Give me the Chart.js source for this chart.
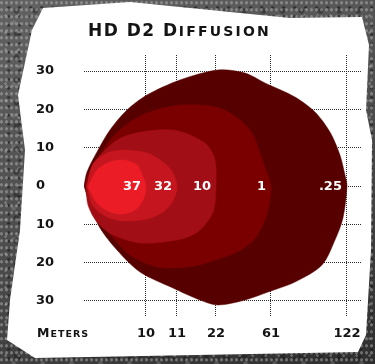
<!DOCTYPE html>
<html>
<head>
<meta charset="utf-8">
<script src="https://cdn.jsdelivr.net/npm/chart.js@4.4.1/dist/chart.umd.min.js"></script>
<style>
html, body { margin: 0; padding: 0; }
body {
    width: 375px; height: 364px; overflow: hidden; position: relative;
    background:
        radial-gradient(ellipse at 30% 40%, rgba(190,190,190,.45) 0 1px, transparent 1.8px) 0 0/5px 7px,
        radial-gradient(ellipse at 70% 60%, rgba(20,20,20,.55) 0 1.2px, transparent 2.2px) 1px 2px/11px 9px,
        radial-gradient(circle at 20% 80%, rgba(220,220,220,.3) 0 1px, transparent 1.6px) 3px 2px/13px 17px,
        radial-gradient(circle at 60% 30%, rgba(25,25,25,.45) 0 2px, transparent 3.5px) 5px 4px/19px 23px,
        radial-gradient(circle at 40% 50%, rgba(150,150,150,.35) 0 1.5px, transparent 3px) 2px 7px/29px 31px,
        linear-gradient(160deg, #626262, #4a4a4a 55%, #2e2e2e);
}
#paper {
    position: absolute; left: 0; top: 0; width: 375px; height: 364px; background: #fff;
    clip-path: polygon(43px 8px, 130px 2px, 290px 18px, 362px 17px, 369px 45px, 366px 110px, 372px 140px,
        371px 250px, 366px 335px, 358px 352px, 35px 358px, 7px 340px, 10px 300px, 20px 230px,
        25px 150px, 18px 95px, 32px 30px);
}
#chart1 { position: absolute; left: 0; top: 0; }
</style>
</head>
<body>
<div id="paper"></div>
<canvas id="chart1" width="375" height="364"></canvas>
<script>
// lux value of each contour, and the distance (meters) where it ends
const luxLabels = ['37', '32', '10', '1', '.25'];
const meterLabels = ['10', '11', '22', '61', '122'];
const yTickValues = [-30, -20, -10, 0, 10, 20, 30];

// contour outlines, [x, y]
const contour37 = [[1.04,-0.26],[3.39,4.18],[6.79,6.27],[10.18,6.79],[13.84,5.48],[15.41,2.35],[16.19,-0.26],
    [15.41,-3.66],[13.32,-6.27],[10.18,-7.31],[6.79,-6.79],[3.39,-4.44],[1.04,-0.26]];
const contour32 = [[0.78,0],[2.35,5.74],[6.01,8.62],[10.18,9.4],[16.45,8.62],[20.63,6.27],[23.24,3.39],[24.28,-0.26],
    [23.24,-3.92],[20.63,-6.79],[16.45,-8.62],[10.18,-9.14],[6.01,-8.09],[2.35,-5.22],[0.78,0]];
const contour10 = [[0.52,0],[2.35,5.48],[6.01,9.92],[10.18,12.79],[16.45,14.36],[23.24,14.62],[27.68,13.32],[32.12,10.71],
    [34.2,6.79],[34.47,0],[33.68,-6.79],[30.29,-11.49],[26.37,-13.58],[20.63,-14.62],[14.62,-14.88],[7.57,-12.79],
    [3.39,-9.4],[1.04,-4.96],[0.52,0]];
const contour1 = [[0.26,0],[0.78,2.61],[3.39,6.79],[6.79,12.01],[11.23,16.19],[16.45,19.06],[23.24,20.89],[30.29,21.15],
    [36.03,20.1],[40.73,17.23],[43.86,13.84],[45.69,9.4],[47.26,4.7],[48.83,0],[48.04,-6.27],[46.48,-10.71],
    [43.86,-14.62],[39.43,-17.49],[34.2,-19.32],[28.98,-20.89],[22.45,-21.41],[18.02,-20.89],[12.01,-18.02],
    [7.57,-13.58],[4.18,-9.4],[1.57,-4.96],[0.26,0]];
const contour025 = [[0,0],[0.78,3.66],[3.39,8.88],[6.79,14.62],[11.23,19.84],[16.45,23.76],[25.07,27.68],[34.99,30.29],
    [42.04,29.5],[47.26,26.89],[55.09,23.24],[60.31,19.32],[64.23,14.1],[66.84,8.09],[68.15,2.87],[68.67,0],
    [67.62,-8.36],[65.54,-14.1],[62.14,-20.63],[55.09,-25.07],[48.04,-27.68],[42.04,-29.77],[34.99,-31.07],
    [30.29,-29.77],[23.24,-26.63],[14.62,-22.45],[8.62,-16.71],[4.18,-10.97],[1.57,-4.96],[0,0]];

const contours = [contour37, contour32, contour10, contour1, contour025];
const colors = ['#ec1c27', '#c5161f', '#a20e15', '#7a0000', '#560000'];

const FONT = '"DejaVu Sans", sans-serif';
const INK = '#141414';

// meter ticks sit where each contour ends
const tickPos = contours.map(c => Math.max(...c.map(p => p[0])));

function smallCaps(ctx, parts, x, y) {
    // parts: [text, size, letter spacing] drawn one after another
    let cx = x;
    for (const [t, size, ls] of parts) {
        ctx.font = 'bold ' + size + 'px ' + FONT;
        if ('letterSpacing' in ctx) ctx.letterSpacing = ls + 'px';
        ctx.fillText(t, cx, y);
        cx += ctx.measureText(t).width;
    }
}

const textPlugin = {
    id: 'texts',
    afterDatasetsDraw(chart) {
        const ctx = chart.ctx;
        const xs = chart.scales.x, ys = chart.scales.y;
        ctx.save();
        ctx.fillStyle = '#fff';
        ctx.font = 'bold 13px ' + FONT;
        ctx.textAlign = 'right';
        ctx.textBaseline = 'middle';
        luxLabels.forEach((l, i) => {
            ctx.fillText(l, xs.getPixelForValue(tickPos[i]) - 5, ys.getPixelForValue(0) + 1);
        });
        ctx.restore();
    },
    afterDraw(chart) {
        const ctx = chart.ctx;
        ctx.save();
        ctx.fillStyle = INK;
        ctx.textAlign = 'left';
        ctx.textBaseline = 'alphabetic';
        smallCaps(ctx, [['HD D2 D', 17, 1.5], ['IFFUSION', 14, 2.2]], 88, 36);
        smallCaps(ctx, [['M', 12.5, 1], ['ETERS', 9.5, 1]], 37, 337);
        ctx.restore();
    }
};

new Chart(document.getElementById('chart1'), {
    type: 'scatter',
    data: {
        datasets: contours.map((c, i) => ({
            label: luxLabels[i],
            data: c.map(p => ({x: p[0], y: p[1]})),
            showLine: true,
            fill: 'shape',
            tension: 0.3,
            backgroundColor: colors[i],
            borderColor: colors[i],
            borderWidth: 0.5,
            pointRadius: 0
        }))
    },
    options: {
        responsive: false,
        animation: false,
        layout: { padding: { left: 36, top: 55, right: 13, bottom: 0 } },
        plugins: { legend: { display: false }, tooltip: { enabled: false } },
        scales: {
            x: {
                type: 'linear',
                min: 0,
                max: 72.6,
                afterBuildTicks: s => { s.ticks = tickPos.map(v => ({value: v})); },
                afterFit: s => { s.height = 47; },
                grid: { color: 'rgba(20,20,20,0.9)', drawTicks: false },
                border: { display: false, dash: [1, 1] },
                ticks: {
                    callback: (v, i) => meterLabels[i],
                    color: INK,
                    font: { family: FONT, size: 13, weight: 'bold' },
                    padding: 9,
                    maxRotation: 0,
                    autoSkip: false
                }
            },
            y: {
                min: -34.2,
                max: 34.2,
                afterBuildTicks: s => { s.ticks = yTickValues.map(v => ({value: v})); },
                afterFit: s => { s.width = 48; },
                grid: { color: 'rgba(20,20,20,0.9)', drawTicks: false },
                border: { display: false, dash: [1, 1] },
                ticks: {
                    callback: v => Math.abs(v),
                    color: INK,
                    crossAlign: 'far',
                    font: { family: FONT, size: 13, weight: 'bold' }
                }
            }
        }
    },
    plugins: [textPlugin]
});
</script>
</body>
</html>
